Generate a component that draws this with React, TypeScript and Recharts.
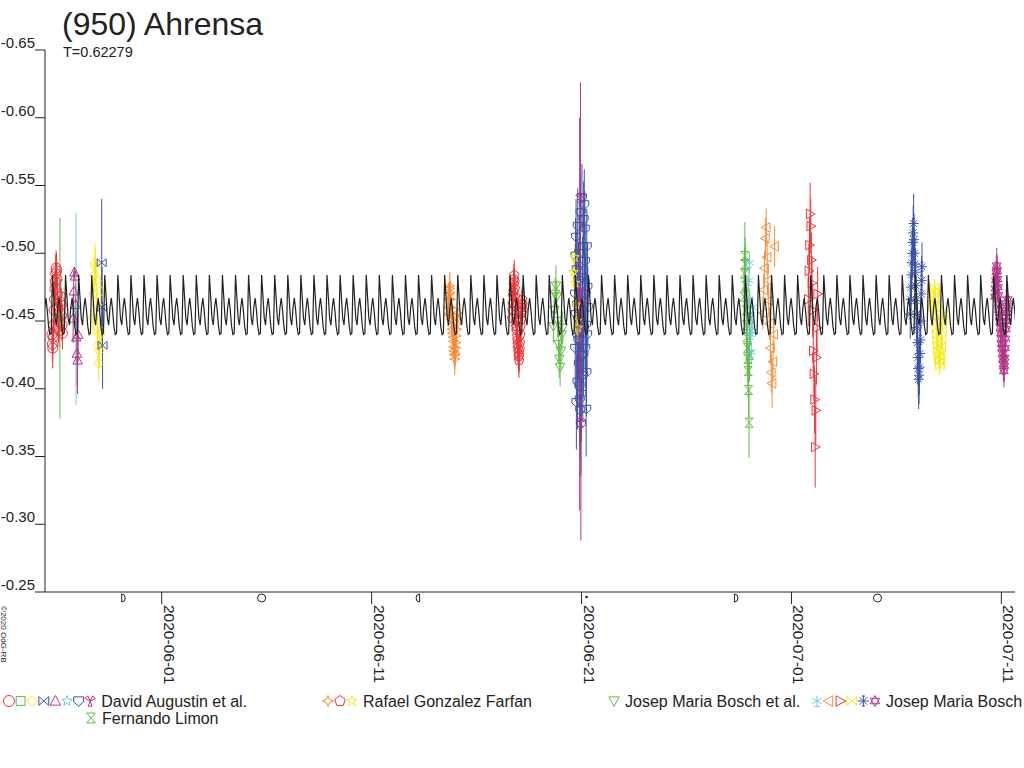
import React from "react";
import {
  ComposedChart, Line, Scatter, ErrorBar, XAxis, YAxis, ReferenceDot,
} from "recharts";

// days counted from 2020-06-01 00:00 UT
const X_TICKS = [0, 10, 20, 30, 40];
const X_TICK_LABELS = ["2020-06-01", "2020-06-11", "2020-06-21", "2020-07-01", "2020-07-11"];
const Y_TICKS = [-0.65, -0.6, -0.55, -0.5, -0.45, -0.4, -0.35, -0.3, -0.25];

// model lightcurve: one rotation (10 steps per period), repeated at T
const PERIOD = 0.62279;
const MODEL_EPOCH = 2.27;
const MODEL_PROFILE = [-0.484, -0.468, -0.452, -0.447, -0.46, -0.467, -0.458, -0.446, -0.44, -0.441];

// moon phases shown under the axis
const MOON_DAYS = [-1.81, 4.76, 12.19, 20.24, 27.38, 34.1];
const MOON_KIND = ["first", "full", "last", "new", "first", "full"];

// sessions: [day, relative mag, error]
const AUG_1 = [
  [-5.23, -0.44, 0.012], [-5.21, -0.433, 0.013], [-5.19, -0.43, 0.015], [-5.17, -0.438, 0.012],
  [-5.15, -0.447, 0.012], [-5.13, -0.458, 0.013], [-5.11, -0.466, 0.013], [-5.09, -0.474, 0.013],
  [-5.07, -0.479, 0.014], [-5.05, -0.485, 0.014], [-5.03, -0.489, 0.013], [-5.01, -0.487, 0.013],
  [-4.99, -0.481, 0.013], [-4.97, -0.47, 0.012], [-4.95, -0.461, 0.012], [-4.93, -0.452, 0.012],
  [-4.91, -0.446, 0.012], [-4.89, -0.443, 0.012], [-4.87, -0.449, 0.012], [-4.85, -0.457, 0.013],
  [-4.83, -0.464, 0.013], [-4.81, -0.468, 0.013], [-4.79, -0.462, 0.012], [-4.77, -0.454, 0.012],
  [-4.75, -0.447, 0.012], [-4.73, -0.441, 0.012],
];
const AUG_2 = [[-4.85, -0.452, 0.074]];
const AUG_3 = [
  [-3.27, -0.452, 0.012], [-3.24, -0.47, 0.012], [-3.21, -0.484, 0.013], [-3.18, -0.493, 0.014],
  [-3.15, -0.49, 0.014], [-3.12, -0.48, 0.012], [-3.09, -0.462, 0.012], [-3.06, -0.445, 0.013],
  [-3.03, -0.432, 0.013], [-3.0, -0.419, 0.014], [-2.97, -0.428, 0.013], [-2.94, -0.44, 0.013],
  [-2.91, -0.472, 0.012],
];
const AUG_4 = [[-2.86, -0.493, 0.047], [-2.84, -0.46, 0.03], [-2.82, -0.432, 0.032]];
const AUG_5 = [
  [-4.22, -0.452, 0.018], [-4.19, -0.472, 0.015], [-4.16, -0.486, 0.004], [-4.13, -0.483, 0.004],
  [-4.1, -0.462, 0.016], [-4.07, -0.438, 0.02], [-4.04, -0.426, 0.024], [-4.01, -0.421, 0.025],
  [-3.98, -0.44, 0.02],
];
const AUG_6 = [[-4.08, -0.459, 0.071]];
const AUG_7 = [
  [19.69, -0.47, 0.028], [19.7, -0.43, 0.03], [19.715, -0.498, 0.028], [19.73, -0.455, 0.03],
  [19.74, -0.512, 0.028], [19.755, -0.39, 0.035], [19.77, -0.488, 0.028], [19.78, -0.44, 0.03],
  [19.795, -0.462, 0.03], [19.81, -0.405, 0.035], [19.82, -0.52, 0.028], [19.835, -0.451, 0.03],
  [19.85, -0.436, 0.03], [19.86, -0.48, 0.028], [19.875, -0.418, 0.032], [19.89, -0.5, 0.028],
  [19.9, -0.402, 0.035], [19.915, -0.392, 0.035], [19.93, -0.465, 0.03], [19.94, -0.384, 0.036],
  [19.955, -0.53, 0.028], [19.97, -0.374, 0.038], [19.98, -0.445, 0.03], [19.995, -0.396, 0.035],
  [20.01, -0.425, 0.03], [20.02, -0.541, 0.025], [20.035, -0.458, 0.03], [20.05, -0.482, 0.03],
  [20.06, -0.41, 0.032], [20.075, -0.505, 0.028], [20.09, -0.425, 0.03], [20.1, -0.525, 0.028],
  [20.115, -0.445, 0.03], [20.13, -0.536, 0.026], [20.14, -0.478, 0.03], [20.155, -0.518, 0.028],
  [20.17, -0.494, 0.028], [20.18, -0.43, 0.03], [20.195, -0.47, 0.03], [20.21, -0.447, 0.03],
  [20.22, -0.385, 0.035], [20.235, -0.412, 0.032], [20.25, -0.505, 0.028], [20.265, -0.44, 0.03],
  [20.28, -0.475, 0.03], [20.3, -0.46, 0.03],
];
const AUG_8 = [
  [19.91, -0.455, 0.145], [19.93, -0.47, 0.05], [19.95, -0.541, 0.085], [19.96, -0.445, 0.05],
  [19.97, -0.375, 0.087], [19.99, -0.462, 0.012],
];
const RGF_1 = [
  [13.64, -0.455, 0.008], [13.657, -0.46, 0.008], [13.674, -0.466, 0.008], [13.691, -0.47, 0.008],
  [13.708, -0.474, 0.009], [13.725, -0.476, 0.01], [13.742, -0.471, 0.008], [13.759, -0.466, 0.008],
  [13.776, -0.46, 0.008], [13.793, -0.455, 0.008], [13.81, -0.451, 0.008], [13.827, -0.447, 0.008],
  [13.844, -0.444, 0.009], [13.861, -0.441, 0.008], [13.878, -0.438, 0.009], [13.895, -0.435, 0.009],
  [13.912, -0.431, 0.009], [13.929, -0.428, 0.01], [13.946, -0.425, 0.011], [13.963, -0.422, 0.012],
  [13.98, -0.426, 0.01], [13.997, -0.43, 0.009], [14.014, -0.434, 0.009], [14.031, -0.439, 0.008],
  [14.048, -0.444, 0.008], [14.065, -0.448, 0.008], [14.082, -0.452, 0.008], [14.1, -0.456, 0.008],
];
const RGF_2 = [
  [16.69, -0.452, 0.01], [16.705, -0.458, 0.01], [16.72, -0.463, 0.01], [16.735, -0.469, 0.01],
  [16.75, -0.472, 0.01], [16.765, -0.477, 0.011], [16.78, -0.481, 0.011], [16.795, -0.484, 0.011],
  [16.81, -0.479, 0.01], [16.825, -0.474, 0.01], [16.84, -0.468, 0.01], [16.855, -0.461, 0.01],
  [16.87, -0.455, 0.01], [16.885, -0.45, 0.01], [16.9, -0.446, 0.01], [16.915, -0.443, 0.01],
  [16.93, -0.439, 0.01], [16.945, -0.436, 0.011], [16.96, -0.433, 0.011], [16.975, -0.43, 0.011],
  [16.99, -0.427, 0.012], [17.005, -0.424, 0.013], [17.02, -0.421, 0.013], [17.035, -0.425, 0.012],
  [17.05, -0.429, 0.012], [17.065, -0.434, 0.011], [17.08, -0.44, 0.01], [17.095, -0.446, 0.01],
  [17.11, -0.451, 0.01], [17.125, -0.456, 0.01], [17.14, -0.46, 0.01], [17.155, -0.463, 0.01],
  [17.17, -0.466, 0.01], [17.185, -0.462, 0.01], [17.2, -0.458, 0.01],
];
const RGF_3 = [
  [19.62, -0.486, 0.01], [19.66, -0.497, 0.01], [19.7, -0.478, 0.01], [19.74, -0.462, 0.01],
  [19.78, -0.45, 0.01], [19.82, -0.445, 0.01],
];
const JMBA_1 = [
  [18.66, -0.446, 0.012], [18.7, -0.458, 0.012], [18.74, -0.47, 0.012], [18.78, -0.476, 0.015],
  [18.82, -0.468, 0.012], [18.86, -0.45, 0.012], [18.9, -0.433, 0.013], [18.94, -0.422, 0.014],
  [18.98, -0.416, 0.014], [19.02, -0.428, 0.013], [19.06, -0.44, 0.012], [19.1, -0.445, 0.012],
];
const JMB_1 = [
  [27.94, -0.466, 0.008], [27.97, -0.48, 0.008], [28.0, -0.493, 0.008], [28.03, -0.452, 0.008],
  [28.06, -0.44, 0.008], [28.09, -0.427, 0.008], [28.12, -0.445, 0.008], [28.15, -0.46, 0.008],
];
const JMB_2 = [
  [28.64, -0.456, 0.012], [28.68, -0.473, 0.012], [28.72, -0.489, 0.013], [28.76, -0.511, 0.015],
  [28.8, -0.519, 0.014], [28.84, -0.497, 0.013], [28.88, -0.48, 0.012], [28.92, -0.465, 0.012],
  [28.96, -0.448, 0.012], [29.0, -0.43, 0.012], [29.04, -0.412, 0.015], [29.08, -0.404, 0.018],
  [29.12, -0.42, 0.015], [29.16, -0.44, 0.012], [29.2, -0.505, 0.015],
];
const JMB_3 = [
  [30.8, -0.466, 0.02], [30.83, -0.487, 0.02], [30.86, -0.506, 0.02], [30.89, -0.529, 0.023],
  [30.92, -0.52, 0.02], [30.95, -0.495, 0.02], [30.98, -0.478, 0.02], [31.01, -0.458, 0.02],
  [31.04, -0.428, 0.02], [31.07, -0.411, 0.02], [31.1, -0.392, 0.025], [31.13, -0.357, 0.03],
  [31.16, -0.384, 0.025], [31.19, -0.423, 0.02], [31.22, -0.445, 0.02], [31.25, -0.47, 0.02],
];
const JMB_4 = [
  [36.76, -0.46, 0.006], [36.78, -0.466, 0.006], [36.8, -0.472, 0.006], [36.82, -0.475, 0.006],
  [36.84, -0.47, 0.006], [36.86, -0.463, 0.006], [36.88, -0.456, 0.006], [36.9, -0.45, 0.006],
  [36.92, -0.445, 0.006], [36.94, -0.44, 0.006], [36.96, -0.436, 0.006], [36.98, -0.432, 0.006],
  [37.0, -0.428, 0.006], [37.02, -0.424, 0.006], [37.04, -0.42, 0.007], [37.06, -0.417, 0.007],
  [37.08, -0.421, 0.007], [37.1, -0.426, 0.006], [37.12, -0.431, 0.006], [37.14, -0.437, 0.006],
  [37.16, -0.443, 0.006], [37.18, -0.449, 0.006], [37.2, -0.455, 0.006],
];
const JMB_5 = [
  [35.66, -0.455, 0.018], [35.68, -0.466, 0.018], [35.7, -0.475, 0.018], [35.72, -0.484, 0.018],
  [35.74, -0.493, 0.018], [35.76, -0.5, 0.018], [35.78, -0.508, 0.018], [35.8, -0.515, 0.02],
  [35.82, -0.522, 0.022], [35.84, -0.51, 0.019], [35.86, -0.5, 0.018], [35.88, -0.492, 0.018],
  [35.9, -0.486, 0.018], [35.92, -0.476, 0.018], [35.94, -0.465, 0.018], [35.96, -0.455, 0.018],
  [35.98, -0.445, 0.018], [36.0, -0.434, 0.019], [36.02, -0.423, 0.02], [36.04, -0.415, 0.021],
  [36.06, -0.407, 0.022], [36.08, -0.41, 0.021], [36.1, -0.416, 0.02], [36.12, -0.426, 0.019],
  [36.14, -0.436, 0.018], [36.16, -0.45, 0.018], [36.18, -0.47, 0.018], [36.2, -0.48, 0.018],
  [36.22, -0.49, 0.018],
];
const JMB_6 = [
  [39.7, -0.468, 0.012], [39.72, -0.474, 0.012], [39.74, -0.48, 0.012], [39.76, -0.486, 0.012],
  [39.78, -0.491, 0.013], [39.8, -0.487, 0.012], [39.82, -0.481, 0.012], [39.84, -0.475, 0.012],
  [39.86, -0.469, 0.012], [39.88, -0.463, 0.012], [39.9, -0.458, 0.012], [39.92, -0.453, 0.012],
  [39.94, -0.449, 0.012], [39.96, -0.445, 0.012], [39.98, -0.441, 0.012], [40.0, -0.437, 0.012],
  [40.02, -0.433, 0.012], [40.04, -0.43, 0.012], [40.06, -0.426, 0.012], [40.08, -0.422, 0.012],
  [40.1, -0.418, 0.012], [40.12, -0.413, 0.012], [40.14, -0.417, 0.012], [40.16, -0.423, 0.012],
  [40.18, -0.43, 0.012], [40.2, -0.437, 0.012], [40.22, -0.444, 0.012], [40.24, -0.45, 0.012],
  [40.26, -0.456, 0.012], [40.28, -0.461, 0.012], [40.3, -0.466, 0.012],
];
const FL_1 = [
  [27.74, -0.468, 0.02], [27.76, -0.485, 0.02], [27.78, -0.498, 0.025], [27.8, -0.492, 0.02],
  [27.82, -0.476, 0.02], [27.84, -0.458, 0.02], [27.86, -0.447, 0.02], [27.88, -0.438, 0.02],
  [27.9, -0.43, 0.02], [27.92, -0.422, 0.02], [27.94, -0.413, 0.02], [27.96, -0.399, 0.02],
  [27.98, -0.375, 0.026], [28.0, -0.425, 0.02], [28.02, -0.452, 0.02],
];

const RED = "#ee3338";
const GREEN = "#62bb46";
const YELLOW = "#f5ea14";
const BLUE = "#3a53a4";
const MAGENTA = "#b5358a";
const CYAN = "#6dcde0";
const ORANGE = "#f68c36";
const INK = "#222";
const FONT = "'Liberation Sans', Arial, sans-serif";

const SERIES = [
  { key: "a1", rows: AUG_1, kind: "circle", color: RED },
  { key: "a2", rows: AUG_2, kind: "square", color: GREEN },
  { key: "a3", rows: AUG_3, kind: "diamond", color: YELLOW },
  { key: "a4", rows: AUG_4, kind: "bowtie", color: BLUE },
  { key: "a5", rows: AUG_5, kind: "triUp", color: MAGENTA },
  { key: "a6", rows: AUG_6, kind: "star5", color: CYAN },
  { key: "a7", rows: AUG_7, kind: "shield", color: BLUE },
  { key: "a8", rows: AUG_8, kind: "trefoil", color: MAGENTA },
  { key: "r1", rows: RGF_1, kind: "star4", color: ORANGE },
  { key: "r2", rows: RGF_2, kind: "pentUp", color: RED },
  { key: "r3", rows: RGF_3, kind: "star5", color: YELLOW },
  { key: "ba1", rows: JMBA_1, kind: "triDown", color: GREEN },
  { key: "f1", rows: FL_1, kind: "hourglass", color: GREEN },
  { key: "b1", rows: JMB_1, kind: "snow", color: CYAN },
  { key: "b2", rows: JMB_2, kind: "triLeft", color: ORANGE },
  { key: "b3", rows: JMB_3, kind: "triRight", color: RED },
  { key: "b4", rows: JMB_4, kind: "bowtie", color: YELLOW },
  { key: "b5", rows: JMB_5, kind: "aster", color: BLUE },
  { key: "b6", rows: JMB_6, kind: "david", color: MAGENTA },
];

const LEGEND_GROUPS = [
  { label: "David Augustin et al.", keys: ["a1", "a2", "a3", "a4", "a5", "a6", "a7", "a8"] },
  { label: "Rafael Gonzalez Farfan", keys: ["r1", "r2", "r3"] },
  { label: "Josep Maria Bosch et al.", keys: ["ba1"] },
  { label: "Josep Maria Bosch", keys: ["b1", "b2", "b3", "b4", "b5", "b6"] },
  { label: "Fernando Limon", keys: ["f1"] },
];

const modelData: { x: number; y: number }[] = [];
{
  const step = PERIOD / MODEL_PROFILE.length;
  const start = MODEL_EPOCH - 13 * PERIOD;
  for (let k = 0; start + k * step < 41.3; k++) {
    modelData.push({ x: start + k * step, y: MODEL_PROFILE[k % MODEL_PROFILE.length] });
  }
}

const UNIT: Record<string, number[][]> = {
  diamond: [[0, -1], [1, 0], [0, 1], [-1, 0]],
  triUp: [[0, -1], [0.95, 0.75], [-0.95, 0.75]],
  triDown: [[0, 1], [0.95, -0.75], [-0.95, -0.75]],
  triLeft: [[-1, 0], [0.75, -0.95], [0.75, 0.95]],
  triRight: [[1, 0], [-0.75, -0.95], [-0.75, 0.95]],
  star4: [[0, -1], [0.28, -0.28], [1, 0], [0.28, 0.28], [0, 1], [-0.28, 0.28], [-1, 0], [-0.28, -0.28]],
  star5: [[0, -1], [0.247, -0.34], [0.951, -0.309], [0.399, 0.13], [0.588, 0.809], [0, 0.42],
    [-0.588, 0.809], [-0.399, 0.13], [-0.951, -0.309], [-0.247, -0.34]],
  pentUp: [[0, -1], [0.95, -0.31], [0.59, 0.81], [-0.59, 0.81], [-0.95, -0.31]],
  shield: [[-0.9, -0.75], [0.9, -0.75], [0.9, 0.15], [0, 0.95], [-0.9, 0.15]],
  hourglass: [[-0.8, -0.9], [0.8, -0.9], [-0.8, 0.9], [0.8, 0.9]],
  bowtie: [[-0.9, -0.8], [0.9, 0.8], [0.9, -0.8], [-0.9, 0.8]],
};

function Marker({ kind, cx, cy, color, s = 5 }: any) {
  if (cx == null || cy == null) return null;
  const common = { fill: "none", stroke: color, strokeWidth: 1 };
  const pts = (u: number[][]) => u.map(([a, b]) => `${cx + a * s},${cy + b * s}`).join(" ");
  const seg = (u: number[][]) =>
    u.map(([a, b, c, d]) => `M${cx + a * s},${cy + b * s}L${cx + c * s},${cy + d * s}`).join("");
  switch (kind) {
    case "circle":
      return <circle cx={cx} cy={cy} r={s} {...common} />;
    case "square":
      return <rect x={cx - s * 0.8} y={cy - s * 0.8} width={s * 1.6} height={s * 1.6} {...common} />;
    case "david":
      return (
        <g {...common}>
          <polygon points={pts([[0, -1], [0.87, 0.5], [-0.87, 0.5]])} />
          <polygon points={pts([[0, 1], [0.87, -0.5], [-0.87, -0.5]])} />
        </g>
      );
    case "aster":
      return <path d={seg([[0, -1, 0, 1], [-1, 0, 1, 0], [-0.7, -0.7, 0.7, 0.7], [0.7, -0.7, -0.7, 0.7],
        [-0.3, -0.9, 0.3, -0.9], [-0.3, 0.9, 0.3, 0.9]])} {...common} />;
    case "snow":
      return <path d={seg([[0, -1, 0, 1], [-0.87, -0.5, 0.87, 0.5], [0.87, -0.5, -0.87, 0.5],
        [-0.5, 1, 0.5, 1]])} {...common} />;
    case "trefoil":
      return (
        <g {...common}>
          <polygon points={pts([[0, 0], [-0.95, -0.45], [-0.45, -0.95]])} />
          <polygon points={pts([[0, 0], [0.95, -0.45], [0.45, -0.95]])} />
          <polygon points={pts([[0, 0], [0.35, 0.95], [-0.35, 0.95]])} />
        </g>
      );
    default:
      return <polygon points={pts(UNIT[kind])} {...common} />;
  }
}

function MoonGlyph({ cx, cy, kind }: any) {
  if (cx == null || cy == null) return null;
  const y = cy + 6;
  const st = { fill: "none", stroke: INK, strokeWidth: 1 };
  if (kind === "full") return <circle cx={cx} cy={y} r={4} {...st} />;
  if (kind === "new") return <circle cx={cx} cy={y - 1} r={1.3} fill={INK} />;
  if (kind === "first")
    return <path d={`M${cx - 2},${y - 4}L${cx - 2},${y + 4}A3.5,4 0 0 0 ${cx - 2},${y - 4}Z`} {...st} />;
  return <path d={`M${cx + 2},${y - 4}L${cx + 2},${y + 4}A3.5,4 0 0 1 ${cx + 2},${y - 4}Z`} {...st} />;
}

const YTick = ({ x, y, payload }: any) => (
  <text x={x} y={y - 2} textAnchor="end" fontSize={15} fill={INK} fontFamily={FONT}>
    {Number(payload.value).toFixed(2)}
  </text>
);

const XTick = ({ x, y, payload }: any) => (
  <text transform={`translate(${x + 2},${y + 1}) rotate(90)`} fontSize={15.5} fill={INK} fontFamily={FONT}>
    {X_TICK_LABELS[X_TICKS.indexOf(payload.value)]}
  </text>
);

function LegendRow({ group, x, y, step }: any) {
  const items = group.keys.map((k: string) => SERIES.find((s) => s.key === k)!);
  return (
    <g>
      {items.map((s: any, i: number) => (
        <Marker key={s.key} kind={s.kind} color={s.color} cx={x + i * step} cy={y - 6} s={5.5} />
      ))}
      <text x={x + (items.length - 1) * step + 11} y={y} fontSize={16} fill={INK} fontFamily={FONT}>
        {group.label}
      </text>
    </g>
  );
}

export default function App() {
  return (
    <div style={{ position: "absolute", left: 0, top: 0, width: 1024, height: 768, background: "#fff" }}>
      <ComposedChart width={1024} height={692} margin={{ top: 50, right: 9, bottom: 10, left: 0 }}>
        <XAxis
          type="number"
          dataKey="x"
          domain={[-5.56, 40.65]}
          allowDataOverflow
          ticks={X_TICKS}
          tick={<XTick />}
          tickSize={12}
          tickMargin={0}
          height={90}
          stroke={INK}
          interval={0}
        />
        <YAxis
          type="number"
          dataKey="y"
          domain={[-0.65, -0.25]}
          reversed
          allowDataOverflow
          ticks={Y_TICKS}
          tick={<YTick />}
          tickSize={10}
          tickMargin={0}
          width={45}
          stroke={INK}
          interval={0}
        />
        {SERIES.map((s) => (
          <Scatter
            key={s.key}
            data={s.rows.map(([x, y, err]) => ({ x, y, err }))}
            isAnimationActive={false}
            shape={(p: any) => <Marker kind={s.kind} color={s.color} cx={p.cx} cy={p.cy} />}
          >
            <ErrorBar dataKey="err" direction="y" width={0} stroke={s.color} strokeWidth={1} isAnimationActive={false} />
          </Scatter>
        ))}
        <Line
          data={modelData}
          dataKey="y"
          type="linear"
          stroke={INK}
          strokeWidth={1.2}
          dot={false}
          activeDot={false}
          isAnimationActive={false}
          zIndex={700}
        />
        {MOON_DAYS.map((d, i) => (
          <ReferenceDot
            key={i}
            x={d}
            y={-0.25}
            ifOverflow="visible"
            shape={(p: any) => <MoonGlyph cx={p.cx} cy={p.cy} kind={MOON_KIND[i]} />}
          />
        ))}
      </ComposedChart>
      <svg width={1024} height={768} style={{ position: "absolute", left: 0, top: 0, pointerEvents: "none" }}>
        <text x={62} y={35} fontSize={32} fill={INK} fontFamily={FONT}>(950) Ahrensa</text>
        <text x={63} y={57} fontSize={14.5} fill={INK} fontFamily={FONT}>T={PERIOD}</text>
        <text transform="translate(1,606) rotate(90)" fontSize={8} fill={INK} fontFamily={FONT}>©2020 OdG-RB</text>
        <LegendRow group={LEGEND_GROUPS[0]} x={9} y={707} step={11.6} />
        <LegendRow group={LEGEND_GROUPS[1]} x={328} y={707} step={12} />
        <LegendRow group={LEGEND_GROUPS[2]} x={614} y={707} step={12} />
        <LegendRow group={LEGEND_GROUPS[3]} x={817} y={707} step={11.6} />
        <LegendRow group={LEGEND_GROUPS[4]} x={91} y={724} step={12} />
      </svg>
    </div>
  );
}
